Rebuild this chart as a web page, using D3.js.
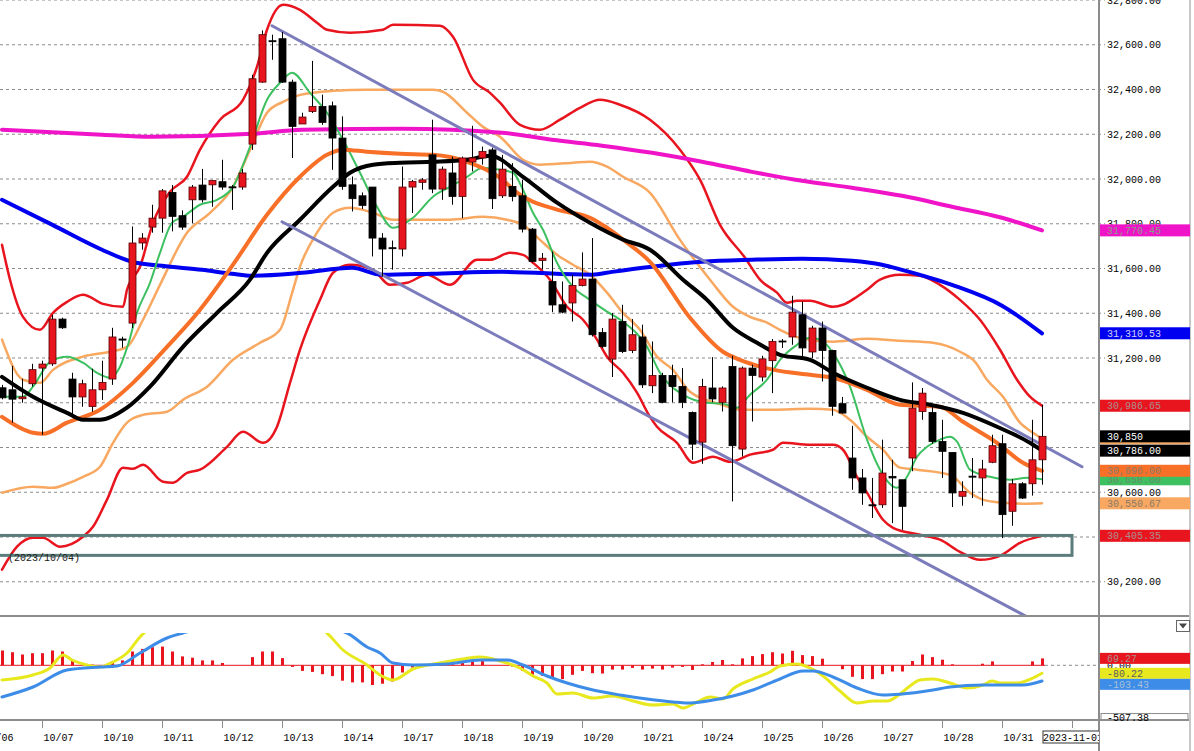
<!DOCTYPE html>
<html>
<head>
<meta charset="utf-8">
<script src="https://cdn.jsdelivr.net/npm/d3@7/dist/d3.min.js"></script>
<style>
  body { margin: 0; background: #fff; }
  svg { display: block; font-family: "Liberation Mono", "DejaVu Sans Mono", monospace; font-size: 10px; }
</style>
</head>
<body>
<svg id="chart" width="1194" height="751"></svg>
<script>
// ---- candles: [open, high, low, close], one per bar ----
const candles = [
  [31067,31080,31015,31022],[31058,31165,30911,31016],[31018,31107,31000,31026],[31085,31174,31072,31148],
  [31155,31188,30857,31173],[31174,31393,31165,31374],[31374,31380,31330,31335],[31106,31134,30937,31026],
  [31026,31103,30982,31085],[30983,31152,30960,31058],[31058,31188,31013,31091],[31106,31335,31080,31294],
  [31285,31295,31246,31280],[31356,31788,31334,31714],[31714,31758,31684,31736],[31785,31885,31760,31825],
  [31825,31955,31760,31947],[31940,31973,31766,31833],[31836,31860,31773,31785],[31907,31973,31803,31964],
  [31973,32045,31895,31907],[31974,31996,31876,31993],[31988,32086,31952,31964],[31965,31973,31862,31963],
  [31964,32045,31952,32027],[32156,32466,32130,32448],[32433,32664,32430,32645],[32618,32645,32533,32615],
  [32627,32657,32429,32433],[32433,32444,32094,32235],[32246,32296,32246,32277],[32302,32528,32295,32324],
  [32324,32377,32242,32253],[32327,32346,32041,32183],[32183,32280,31952,31967],[31974,32011,31855,31912],
  [31925,31940,31866,31882],[31964,31964,31654,31736],[31736,31758,31565,31687],[31693,31725,31595,31689],
  [31687,32056,31654,31964],[31964,31996,31848,31989],[31985,32004,31952,31996],[32108,32265,31937,31955],
  [31955,32056,31907,32044],[32027,32100,31885,31922],[31922,32100,31825,32094],[32076,32238,32034,32094],
  [32094,32145,32064,32123],[32130,32140,31866,31912],[31925,32108,31915,32044],[31967,32071,31900,31922],
  [31925,31996,31761,31776],[31776,31781,31627,31632],[31636,31669,31595,31646],[31542,31676,31405,31437],
  [31438,31542,31400,31405],[31446,31572,31363,31524],[31524,31672,31520,31553],[31553,31736,31296,31304],
  [31314,31334,31245,31252],[31195,31401,31115,31374],[31363,31438,31222,31229],[31234,31374,31222,31304],
  [31294,31349,31066,31080],[31076,31274,31043,31122],[31122,31134,30998,31002],[31122,31170,31002,31073],
  [31073,31155,30976,31002],[30957,30961,30745,30815],[30824,31107,30727,31073],[31066,31204,31002,31017],
  [31002,31073,30961,31066],[31162,31210,30559,30808],[30793,31162,30760,31155],[31155,31170,30916,31122],
  [31115,31210,31095,31196],[31188,31285,31043,31274],[31276,31285,31245,31272],[31294,31478,31259,31405],
  [31393,31453,31200,31245],[31227,31344,31200,31334],[31334,31363,31095,31234],[31234,31237,30942,30984],
  [30996,31026,30951,30954],[30753,30897,30611,30664],[30664,30704,30544,30597],[30544,30664,30485,30540],
  [30544,30835,30530,30686],[30671,30745,30462,30664],[30656,30656,30432,30537],[30753,31091,30694,30976],
  [30961,31066,30924,31043],[30957,30991,30817,30827],[30827,30924,30664,30783],[30778,30778,30534,30597],
  [30582,30649,30540,30604],[30672,30753,30574,30668],[30664,30745,30540,30704],[30734,30857,30730,30808],
  [30817,30857,30395,30500],[30515,30659,30450,30638],[30638,30645,30570,30574],[30638,30924,30585,30745],
  [30745,30991,30634,30850]
];

// ---- indicator lines: [bar index, price] ----
const longMA = [[0,32220],[10,32198],[15,32189],[25,32202],[30,32220],[40,32225],[50,32207],[55,32175],[60,32149],
  [65,32117],[70,32077],[75,32032],[80,31992],[85,31961],[90,31925],[95,31876],[100,31827],[104,31770]];
const midMA = [[0,31907],[5,31796],[10,31684],[13,31630],[16,31612],[20,31594],[23,31577],[25,31568],[30,31581],
  [35,31603],[38,31572],[43,31577],[50,31585],[59,31572],[61,31585],[65,31608],[70,31630],[75,31639],[80,31644],
  [85,31635],[88,31617],[90,31594],[95,31527],[100,31434],[104,31310]];
const slowMA = [[0,31116],[3.1,31027],[6.5,30955],[8.1,30924],[9.8,30924],[12.5,30978],[14.8,31072],[18.1,31250],
  [21.5,31402],[24.8,31550],[26.5,31670],[29.8,31818],[33.1,31965],[34.8,32028],[37.1,32064],[39.8,32073],
  [43.1,32077],[46.5,32086],[48.8,32104],[52.1,32010],[55.5,31894],[58.8,31804],[62.1,31729],[64.8,31684],
  [68.1,31550],[70.5,31460],[73.1,31335],[75.5,31268],[77.8,31214],[80.8,31192],[83.1,31134],[86.5,31067],
  [89.8,31013],[92.8,30991],[96.1,30955],[99.5,30893],[102.8,30821],[104,30786]];
const bbMid = [[0,30937],[3.1,30866],[4.1,30861],[6.5,30911],[9.8,30969],[13.1,31089],[16.5,31250],[19.8,31416],
  [20.8,31474],[23.1,31617],[26.5,31840],[29.8,32010],[32.5,32108],[34.1,32131],[36.5,32122],[39.8,32113],
  [43.1,32108],[46.5,32077],[49.8,32006],[51.5,31939],[55.5,31863],[58.8,31827],[60.5,31782],[62.1,31729],
  [64.8,31630],[68.8,31380],[72.1,31228],[73.8,31192],[77.1,31148],[80.8,31125],[83.1,31112],[86.5,31058],
  [89.8,30991],[93.8,30982],[96.1,30915],[99.5,30821],[102.1,30732],[104,30696]];
const fastMA = [[0,31027],[2.1,31027],[3.1,31072],[4.8,31183],[6.5,31206],[8.1,31179],[9.5,31134],[10.8,31112],
  [11.8,31161],[12.6,31259],[13.5,31402],[14.8,31536],[15.8,31670],[17,31804],[18.1,31831],[19.8,31885],
  [21.5,31907],[23.1,31965],[24.8,32144],[26.5,32354],[27.8,32430],[29,32475],[30.8,32385],[32.5,32296],
  [34.1,32175],[35.8,32028],[37.5,31876],[39.1,31782],[41.1,31827],[43.1,31921],[44.8,31965],[46.5,32010],
  [48.1,32050],[49.8,32041],[51.1,32028],[52.1,31952],[53.1,31849],[54.1,31773],[55.5,31626],[57.1,31518],
  [58.8,31460],[60.5,31407],[62.1,31362],[64.5,31250],[65.8,31134],[68.1,31036],[70.5,31000],[72.1,30996],
  [73.5,30978],[74.8,31036],[76.5,31103],[77.8,31192],[79.5,31259],[80.8,31290],[81.8,31282],[83.1,31223],
  [84.8,31072],[86.5,30835],[87.8,30701],[89.5,30620],[90.5,30669],[91.5,30759],[92.5,30803],[93.8,30835],
  [94.8,30848],[95.5,30826],[96.8,30701],[98.8,30669],[100.8,30656],[102.5,30665],[104,30658]];
const bbUp2 = [[0,31706],[0.8,31550],[2.1,31384],[3.8,31326],[5.1,31402],[6.5,31451],[8.1,31483],[10.1,31442],
  [12.1,31429],[12.5,31505],[13.8,31608],[15.1,31804],[16.8,31943],[18.5,32010],[19.8,32131],[21.8,32265],
  [24.1,32354],[25.5,32502],[26.5,32667],[28.1,32779],[29.8,32756],[31.5,32698],[32.5,32667],[34.8,32654],
  [38.1,32667],[39.1,32689],[43.8,32685],[45.1,32636],[47.1,32443],[48.8,32385],[49.8,32341],[51.8,32242],
  [53.8,32220],[55.8,32265],[57.8,32318],[59.8,32354],[61.8,32332],[64.8,32265],[67.8,32131],[69.8,31997],
  [71.8,31795],[74.3,31648],[75.8,31550],[77.5,31492],[78.5,31447],[79.5,31456],[80.8,31456],[83.1,31429],
  [84.1,31438],[85.5,31474],[86.5,31505],[87.8,31550],[89.8,31572],[91.8,31568],[93.8,31527],[95.8,31460],
  [97.8,31371],[99.8,31237],[101.5,31103],[102.8,31027],[104,30987]];
const bbUp1 = [[0,31282],[2.1,31103],[3.8,31089],[5.1,31147],[8.1,31206],[10.8,31228],[12.5,31250],[14.1,31371],
  [15.8,31527],[18.5,31760],[20.8,31849],[23.1,31965],[24.8,32131],[26.5,32296],[28.1,32345],[29.8,32376],
  [33.1,32394],[36.5,32399],[43.1,32399],[44.1,32390],[46.5,32296],[48.1,32233],[49.8,32189],[52.1,32086],
  [53.8,32064],[57.1,32073],[58.8,32077],[60.5,32055],[62.1,32010],[64.8,31938],[67.8,31728],[70.8,31550],
  [73.1,31429],[74.8,31384],[76.5,31358],[77.8,31326],[79.8,31290],[83.1,31273],[86.5,31286],[89.8,31277],
  [93.1,31268],[95.8,31228],[97.3,31183],[98.5,31103],[100.1,31027],[101.8,30911],[103.1,30866],[104,30841]];
const bbDn1 = [[0,30598],[3.1,30625],[5.1,30620],[6.5,30638],[8.1,30669],[9.8,30714],[11.1,30821],[12.5,30911],
  [14.1,30946],[16.5,30960],[18.1,31013],[20.5,31072],[23.1,31192],[25.8,31268],[27.8,31326],[29.1,31505],
  [29.8,31608],[31.5,31760],[33.1,31849],[34.8,31871],[37.1,31849],[39.1,31818],[44.8,31818],[48.1,31831],
  [50.5,31818],[52.1,31795],[53.8,31728],[55.5,31661],[57.1,31617],[58.8,31572],[60.5,31492],[62.1,31402],
  [63.8,31326],[65.5,31206],[67.1,31147],[68.8,31049],[72.1,30990],[73.8,30969],[77.1,30969],[80.8,30973],
  [83.1,30969],[84.8,30924],[86.5,30848],[88.1,30790],[89.8,30710],[91.5,30701],[94.8,30678],[96.8,30598],
  [98.1,30567],[100.1,30553],[102.1,30549],[104,30551]];
const bbDn2 = [[0,30254],[1.5,30357],[3.1,30397],[4.1,30397],[5.8,30357],[8.1,30401],[9.1,30446],[10.5,30567],
  [12.1,30710],[13.1,30705],[14.1,30723],[16.1,30647],[17.1,30643],[18.5,30687],[19.8,30701],[22.5,30803],
  [24.1,30870],[26.1,30821],[27.5,30893],[28.8,31089],[29.8,31237],[31.8,31460],[33.1,31581],[34.8,31617],
  [37.1,31594],[38.8,31527],[40.5,31536],[42.5,31572],[44.8,31527],[47.5,31639],[48.8,31639],[50.8,31670],
  [52.1,31661],[53.1,31626],[54.8,31550],[56.5,31429],[58.1,31371],[59.5,31282],[60.5,31206],[62.1,31134],
  [63.5,31045],[64.8,30937],[65.5,30893],[67.5,30821],[69.1,30732],[71.1,30759],[72.8,30736],[74.8,30768],
  [77.1,30790],[78.1,30821],[80.8,30812],[83.1,30812],[84.1,30790],[85.5,30669],[86.5,30598],[88.1,30477],
  [89.1,30441],[91.8,30410],[93.8,30388],[95.8,30334],[97.8,30298],[99.8,30316],[101.8,30374],[104,30405]];

// trend channel and support zone
const upperTrend = [[27,32685],[108,30714]];
const lowerTrend = [[28,31809],[104,30008]];
const zone = { from: -2, to: 107, low: 30318, high: 30407, label: "(2023/10/04)" };

// ---- MACD pane ----
const macdHist = [148,131,108,121,121,148,138,49,23,7,0,39,49,138,164,181,187,138,89,76,
  49,49,23,0,0,82,138,138,72,-16,-56,-66,-89,-108,-154,-171,-171,-197,-184,-162,
  -72,-23,0,10,33,16,36,43,59,0,0,-13,-56,-95,-105,-131,-138,-95,-56,-79,
  -82,-43,-43,-26,-43,-33,-43,-23,-16,-46,10,33,53,10,69,92,112,131,118,145,
  102,92,66,0,-39,-115,-138,-138,-89,-62,-62,43,108,82,56,10,0,0,16,39,
  0,0,0,39,69];
const macdLine = [[0,-147],[3.1,-97],[4.8,-27],[6.1,103],[7,53],[8.1,13],[9.8,-17],[11.1,33],[12.5,123],[13.8,283],
  [14.5,353],[17,480],[21,560],[25,560],[29,480],[32.5,323],[34.1,153],[36.5,3],[37.8,-97],[39.1,-147],[41.1,-37],
  [43.8,23],[46.1,63],[47.8,83],[49.8,43],[51.8,-27],[53.1,-107],[54.5,-177],[55.5,-287],[57.1,-277],[59.1,-327],
  [61.1,-307],[63.1,-357],[65.1,-397],[67.1,-387],[68.1,-427],[69.5,-367],[70.8,-317],[72.1,-337],[73.1,-237],
  [75.1,-137],[76.8,-67],[77.8,-7],[79.5,13],[80.8,-27],[82.1,-107],[83.8,-257],[85.5,-377],[87.1,-357],
  [88.5,-357],[89.8,-287],[90.8,-207],[91.8,-147],[93.1,-137],[94.8,-177],[96.5,-227],[98.1,-197],[99,-157],
  [99.8,-177],[101.5,-177],[103.1,-127],[104,-80]];
const signalLine = [[0,-317],[3.1,-217],[6.5,-47],[9.8,-17],[11.5,-7],[13.8,123],[16.5,273],[18.1,323],[22,420],
  [26,450],[30,420],[34.5,323],[36.5,183],[37.8,123],[39.1,23],[41.1,3],[44.5,13],[47.8,53],[50.5,53],[52.1,3],
  [54.5,-107],[56.5,-177],[59.1,-247],[61.8,-297],[64.5,-337],[67.1,-367],[68.5,-377],[71.1,-347],[73.1,-307],
  [75.1,-247],[77.8,-137],[80.1,-57],[81.1,-57],[83.1,-117],[85.5,-227],[88.1,-297],[89.8,-289],[93.1,-247],
  [94.8,-217],[98.1,-197],[99.8,-197],[102.1,-197],[104,-157]];

// ---- axis labels ----
const priceTicks = d3.range(30200, 32801, 200);
const dateTickIdx = d3.range(-2, 101, 6);
const dateLabels = ["10/06","10/07","10/10","10/11","10/12","10/13","10/14","10/17","10/18","10/19",
  "10/20","10/21","10/24","10/25","10/26","10/27","10/28","10/31"];
const cursorDate = { idx: 107, label: "2023-11-01" };

// last-value tags on the price scale (drawn in this order; empty text = tag hidden under its neighbours)
const tagValues = [31770.45, 31310.53, 30986.65, 30841.33, 30786.00, 30850, 30658.00, 30696.00, 30550.67, 30405.35];
const tagTexts  = ["31,770.45","31,310.53","30,986.65","","30,786.00","30,850","30,658.00","30,696.00","30,550.67","30,405.35"];
const tagFill   = ["#f014c8","#0000f0","#e8141e","#f8a860","#000","#000","#3cc060","#f87028","#f8a860","#e8141e"];
const tagInk    = ["#8a9a8a","#d0d0f0","#a89090","#8a7a6a","#fff","#fff","#6a8a6a","#8a7a6a","#8a7a6a","#a89090"];
const macdTagValues = [69.27, -80.22, -103.43];
const macdTagTexts  = ["69.27", "-80.22", "-103.43"];
const macdTagFill   = ["#e8141e", "#e8e81e", "#3c8ce8"];
const macdTagInk    = ["#a89090", "#606060", "#a8c0d8"];
const macdMin = -507.38;

// ---- layout ----
const svg = d3.select("#chart");
const plotRight = 1099, frameRight = 1190;
const mainBottom = 616, macdTop = 633, macdBottom = 720;

const x = d3.scaleLinear().domain([0, 104]).range([2, 1042]);
const y = d3.scaleLinear().domain([30047, 32800]).range([mainBottom, 0]);
const ym = d3.scaleLinear().domain([-547, 493]).range([macdBottom, 616]);

const defs = svg.append("defs");
defs.append("clipPath").attr("id", "clipMain")
  .append("rect").attr("x", 0).attr("y", 0).attr("width", plotRight).attr("height", mainBottom);
defs.append("clipPath").attr("id", "clipMacd")
  .append("rect").attr("x", 0).attr("y", macdTop).attr("width", plotRight).attr("height", macdBottom - macdTop);
defs.append("clipPath").attr("id", "clipAxis")
  .append("rect").attr("x", 0).attr("y", macdBottom).attr("width", plotRight).attr("height", 40);

// grid
svg.append("g").selectAll("line").data(priceTicks).enter().append("line")
  .attr("x1", 0).attr("x2", 1105)
  .attr("y1", d => y(d)).attr("y2", d => y(d))
  .attr("stroke", "#8c8c8c").attr("stroke-dasharray", "3,3");

const main = svg.append("g").attr("clip-path", "url(#clipMain)");

const line = d3.line().x(d => x(d[0])).y(d => y(d[1])).curve(d3.curveMonotoneX);

function drawLine(g, data, color, width, fn) {
  g.append("path").datum(data)
    .attr("d", fn || line)
    .attr("fill", "none").attr("stroke", color).attr("stroke-width", width)
    .attr("stroke-linejoin", "round").attr("stroke-linecap", "round");
}

// bands then averages
drawLine(main, bbUp2, "#e8141e", 2.5);
drawLine(main, bbDn2, "#e8141e", 2.5);
drawLine(main, bbUp1, "#f8a860", 2.5);
drawLine(main, bbDn1, "#f8a860", 2.5);
drawLine(main, longMA, "#f014c8", 4);
drawLine(main, midMA, "#0000f0", 4);
drawLine(main, fastMA, "#3cc060", 2);
drawLine(main, bbMid, "#f87028", 4);
drawLine(main, slowMA, "#000", 4);

// support zone
main.append("rect")
  .attr("x", x(zone.from)).attr("width", x(zone.to) - x(zone.from))
  .attr("y", y(zone.high)).attr("height", y(zone.low) - y(zone.high))
  .attr("fill", "none").attr("stroke", "#5c7c7c").attr("stroke-width", 3);
main.append("text").attr("x", 8).attr("y", y(zone.low) + 6)
  .attr("fill", "#222").text(zone.label);

// trend channel
const straight = d3.line().x(d => x(d[0])).y(d => y(d[1]));
drawLine(main, upperTrend, "#7c7cbc", 3, straight);
drawLine(main, lowerTrend, "#7c7cbc", 3, straight);

// candles
const cg = main.append("g").selectAll("g").data(candles).enter().append("g");
cg.append("line")
  .attr("x1", (d, i) => Math.round(x(i)) + 0.5).attr("x2", (d, i) => Math.round(x(i)) + 0.5)
  .attr("y1", d => y(d[1])).attr("y2", d => y(d[2]))
  .attr("stroke", "#000").attr("stroke-width", 1);
cg.append("rect")
  .attr("x", (d, i) => Math.round(x(i)) - 3)
  .attr("width", 7)
  .attr("y", d => y(Math.max(d[0], d[3])))
  .attr("height", d => Math.max(1, Math.abs(y(d[0]) - y(d[3]))))
  .attr("fill", d => d[3] > d[0] ? "#e8141e" : "#000")
  .attr("stroke", d => d[3] > d[0] ? "#500" : "#000")
  .attr("stroke-width", 0.8);

// ---- MACD pane ----
const zeroY = ym(0);
svg.append("line").attr("x1", 0).attr("x2", x(104) + 3).attr("y1", zeroY).attr("y2", zeroY)
  .attr("stroke", "#e8141e").attr("stroke-width", 1);
svg.append("line").attr("x1", x(104) + 3).attr("x2", plotRight).attr("y1", zeroY).attr("y2", zeroY)
  .attr("stroke", "#8c8c8c").attr("stroke-dasharray", "3,3");
svg.append("g").selectAll("rect").data(macdHist).enter().append("rect")
  .attr("x", (d, i) => Math.round(x(i)) - 1)
  .attr("width", 3)
  .attr("y", d => Math.min(ym(d), zeroY))
  .attr("height", d => Math.abs(ym(d) - zeroY))
  .attr("fill", "#e8141e");

const mg = svg.append("g").attr("clip-path", "url(#clipMacd)");
const mline = d3.line().x(d => x(d[0])).y(d => ym(d[1])).curve(d3.curveMonotoneX);
drawLine(mg, macdLine, "#e8e81e", 3, mline);
drawLine(mg, signalLine, "#3c8ce8", 3, mline);

// ---- frame ----
const frame = svg.append("g").attr("stroke", "#8c8c8c").attr("stroke-width", 2);
frame.append("line").attr("x1", 0).attr("x2", frameRight).attr("y1", mainBottom).attr("y2", mainBottom);
frame.append("line").attr("x1", 0).attr("x2", frameRight).attr("y1", macdBottom).attr("y2", macdBottom);
frame.append("line").attr("x1", plotRight).attr("x2", plotRight).attr("y1", 0).attr("y2", 751);
frame.append("line").attr("x1", frameRight).attr("x2", frameRight).attr("y1", 0).attr("y2", 751).attr("stroke", "#c8c8c8");

// price axis: labels that sit fully under a value tag are not drawn
const visibleTicks = priceTicks.filter(t => !tagValues.some(v => Math.abs(y(t) - y(v)) < 6));
const yAxis = svg.append("g").attr("transform", `translate(${plotRight},0)`)
  .call(d3.axisRight(y).tickValues(visibleTicks).tickFormat(d3.format(",.2f")).tickSize(0).tickPadding(8));
yAxis.select(".domain").remove();
yAxis.selectAll("text").attr("fill", "#000");
yAxis.attr("font-family", null).attr("font-size", null);

// last-value tags
const tags = svg.append("g");
tagValues.forEach((v, i) => {
  const ty = y(v);
  tags.append("rect").attr("x", plotRight + 1).attr("y", ty - 6).attr("width", frameRight - plotRight - 1)
    .attr("height", 12).attr("fill", tagFill[i]);
  if (tagTexts[i]) {
    tags.append("text").attr("x", 1107).attr("y", ty).attr("dy", "0.35em")
      .attr("fill", tagInk[i]).text(tagTexts[i]);
  }
});

// MACD scale labels
svg.append("text").attr("x", 1107).attr("y", zeroY).attr("dy", "0.35em").text("0.00");
let lastBottom = -Infinity;
macdTagValues.forEach((v, i) => {
  let top = ym(v) - 5.5;
  if (top < lastBottom) top = lastBottom;   // stack overlapping tags
  lastBottom = top + 11;
  svg.append("rect").attr("x", plotRight + 1).attr("y", top).attr("width", frameRight - plotRight - 1)
    .attr("height", 11).attr("fill", macdTagFill[i]);
  svg.append("text").attr("x", 1107).attr("y", top + 5.5).attr("dy", "0.35em")
    .attr("fill", macdTagInk[i]).text(macdTagTexts[i]);
});
svg.append("rect").attr("x", plotRight + 2).attr("y", ym(macdMin) - 2.5).attr("width", frameRight - plotRight - 4)
  .attr("height", 6).attr("fill", "#fff").attr("stroke", "#8c8c8c");
svg.append("text").attr("x", 1107).attr("y", ym(macdMin) + 1).attr("dy", "0.35em").text(macdMin.toFixed(2));

// pane menu button
svg.append("rect").attr("x", 1176.5).attr("y", 620.5).attr("width", 13).attr("height", 11)
  .attr("fill", "#fff").attr("stroke", "#666");
svg.append("path").attr("d", "M1179,623.5 L1187,623.5 L1183,628.5 Z").attr("fill", "#444");

// date axis
const xg = svg.append("g").attr("clip-path", "url(#clipAxis)");
const xAxis = xg.append("g").attr("transform", `translate(0,${macdBottom})`)
  .call(d3.axisBottom(x).tickValues(dateTickIdx.concat([cursorDate.idx])).tickSize(8)
    .tickFormat(d => d === cursorDate.idx ? "" : dateLabels[dateTickIdx.indexOf(d)]));
xAxis.select(".domain").remove();
xAxis.attr("font-family", null).attr("font-size", null);
xAxis.selectAll(".tick line").attr("stroke", "#8c8c8c");
xAxis.selectAll(".tick text").attr("text-anchor", "start").attr("x", 1).attr("y", 21).attr("dy", 0).attr("fill", "#000");

// cursor date box
const cx = x(cursorDate.idx);
xg.append("rect").attr("x", cx - 29).attr("y", 731).attr("width", 60).attr("height", 12)
  .attr("fill", "#fff").attr("stroke", "#333");
xg.append("text").attr("x", cx + 1).attr("y", 741).attr("text-anchor", "middle").text(cursorDate.label);
</script>
</body>
</html>
